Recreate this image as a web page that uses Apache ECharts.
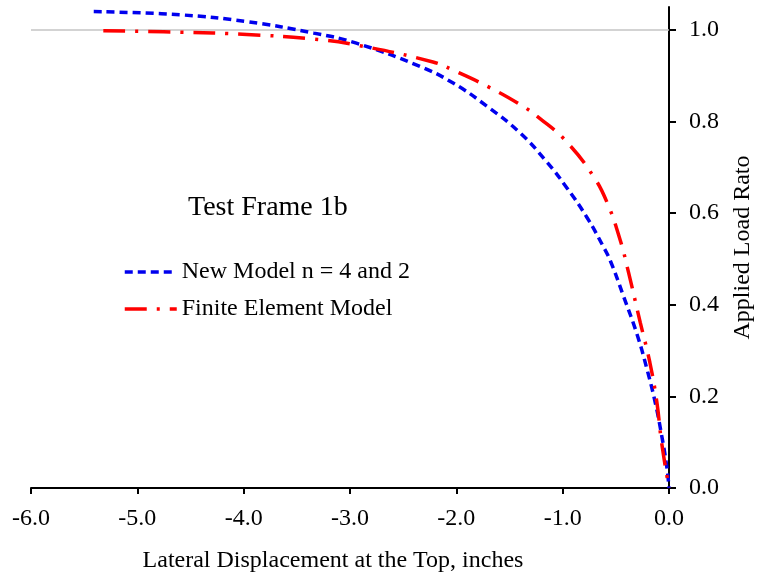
<!DOCTYPE html>
<html>
<head>
<meta charset="utf-8">
<script src="https://cdn.jsdelivr.net/npm/echarts@6/dist/echarts.min.js"></script>
<style>
  html, body { margin: 0; padding: 0; background: #fff; }
  #chart { width: 773px; height: 578px; }
</style>
</head>
<body>
<div id="chart"></div>
<script>
// values
const newModelX = [-5.41, -4.60, -3.97, -3.34, -2.94, -2.34, -2.03, -1.71, -1.40, -1.15, -0.96, -0.77, -0.62, -0.55, -0.43, -0.30, -0.21, -0.13, -0.07, -0.02, 0];
const newModelY = [1.040, 1.033, 1.018, 0.993, 0.971, 0.920, 0.884, 0.833, 0.775, 0.712, 0.655, 0.590, 0.528, 0.495, 0.420, 0.335, 0.262, 0.187, 0.116, 0.045, 0];
const feX = [-5.32, -4.60, -3.97, -3.34, -2.94, -2.22, -2.03, -1.71, -1.40, -1.21, -0.96, -0.71, -0.58, -0.46, -0.38, -0.27, -0.18, -0.114, -0.07, 0];
const feY = [0.998, 0.995, 0.990, 0.980, 0.967, 0.930, 0.912, 0.877, 0.837, 0.806, 0.755, 0.680, 0.622, 0.542, 0.470, 0.361, 0.274, 0.187, 0.100, 0];
const yTicks = [0, 0.2, 0.4, 0.6, 0.8, 1.0];

const font = 'Liberation Serif';
const zip = (xs, ys) => xs.map((x, i) => [x, ys[i]]);

let myChart = echarts.init(document.getElementById('chart'));
myChart.setOption({
  animation: false,
  backgroundColor: '#fff',
  title: {
    text: 'Test Frame 1b',
    left: 183,
    top: 189,
    textStyle: { fontFamily: font, fontSize: 28, fontWeight: 'normal', color: '#000' }
  },
  legend: {
    orient: 'vertical',
    left: 118,
    top: 255,
    itemWidth: 52,
    itemHeight: 14,
    itemGap: 13,
    itemStyle: { opacity: 0 },
    lineStyle: { width: 3.5 },
    textStyle: { fontFamily: font, fontSize: 24, color: '#000' },
    data: ['New Model n = 4 and 2', 'Finite Element Model']
  },
  grid: { left: 31, right: 104, top: 7, bottom: 89 },
  xAxis: {
    type: 'value',
    min: -6,
    max: 0,
    interval: 1,
    name: 'Lateral Displacement at the Top, inches',
    nameLocation: 'middle',
    nameGap: 61,
    nameTextStyle: { fontFamily: font, fontSize: 24, color: '#000', padding: [0, 34, 0, 0] },
    axisLine: { onZero: false, lineStyle: { color: '#000', width: 2 } },
    axisTick: { length: 6, lineStyle: { color: '#000', width: 2 } },
    axisLabel: {
      fontFamily: font, fontSize: 24, color: '#000', margin: 19,
      formatter: v => v.toFixed(1)
    },
    splitLine: { show: false }
  },
  yAxis: {
    type: 'value',
    position: 'right',
    min: 0,
    max: 1.05,
    name: 'Applied Load Rato',
    nameLocation: 'middle',
    nameGap: 62,
    nameTextStyle: { fontFamily: font, fontSize: 24, color: '#000' },
    axisLine: { show: true, onZero: false, lineStyle: { color: '#000', width: 2 } },
    axisTick: { show: true, length: 7, customValues: yTicks, lineStyle: { color: '#000', width: 2 } },
    axisLabel: {
      fontFamily: font, fontSize: 24, color: '#000', margin: 20,
      customValues: yTicks,
      formatter: v => v.toFixed(1)
    },
    splitLine: { show: false }
  },
  series: [
    {
      name: 'Finite Element Model',
      type: 'line',
      data: zip(feX, feY),
      smooth: 0.45,
      showSymbol: false,
      symbol: 'none',
      z: 3,
      lineStyle: { color: '#ff0000', width: 3.5, type: [22, 10, 3, 10] },
      itemStyle: { color: '#ff0000' },
      markLine: {
        silent: true,
        symbol: 'none',
        label: { show: false },
        lineStyle: { color: '#c4c4c4', width: 1.5, type: 'solid' },
        data: [{ yAxis: 1.0 }],
        z: 1
      }
    },
    {
      name: 'New Model n = 4 and 2',
      type: 'line',
      data: zip(newModelX, newModelY),
      smooth: 0.45,
      showSymbol: false,
      symbol: 'none',
      z: 2,
      lineStyle: { color: '#0000ee', width: 3.5, type: [8, 5] },
      itemStyle: { color: '#0000ee' }
    }
  ]
});
</script>
</body>
</html>
